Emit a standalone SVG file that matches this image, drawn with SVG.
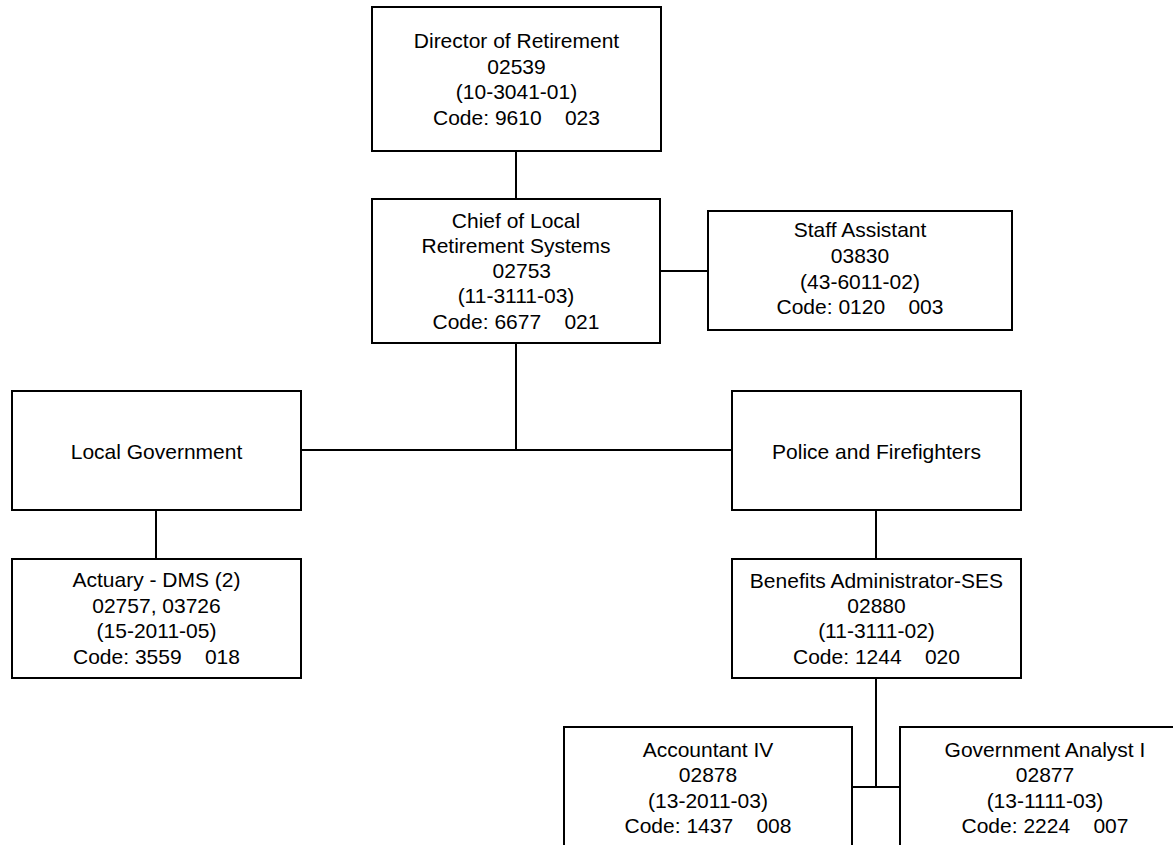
<svg xmlns="http://www.w3.org/2000/svg" width="1173" height="845" viewBox="0 0 1173 845">
  <style>
    .box { fill: #ffffff; stroke: #000000; stroke-width: 2; }
    .link { fill: none; stroke: #000000; stroke-width: 2; }
    text { font-family: "Liberation Sans", Arial, sans-serif; font-size: 21px; fill: #000000; text-anchor: middle; }
  </style>
  <rect width="1173" height="845" fill="#ffffff"/>

  <!-- reporting lines -->
  <g id="connectors">
    <path class="link" d="M516,151 V199"/>
    <path class="link" d="M660,271 H708"/>
    <path class="link" d="M516,343 V450"/>
    <path class="link" d="M301,450 H732"/>
    <path class="link" d="M156,510 V559"/>
    <path class="link" d="M876,510 V559"/>
    <path class="link" d="M876,678 V787"/>
    <path class="link" d="M852,787 H900"/>
  </g>

  <g id="director">
    <rect class="box" x="372" y="7" width="289" height="144"/>
    <text xml:space="preserve"><tspan x="516.5" y="48">Director of Retirement</tspan><tspan x="516.5" y="74">02539</tspan><tspan x="516.5" y="99">(10-3041-01)</tspan><tspan x="516.5" y="125">Code: 9610    023</tspan></text>
  </g>

  <g id="chief">
    <rect class="box" x="372" y="199" width="288" height="144"/>
    <text xml:space="preserve"><tspan x="516" y="228">Chief of Local</tspan><tspan x="516" y="253">Retirement Systems</tspan><tspan x="516" y="278">  02753</tspan><tspan x="516" y="303">(11-3111-03)</tspan><tspan x="516" y="329">Code: 6677    021</tspan></text>
  </g>

  <g id="staff-assistant">
    <rect class="box" x="708" y="211" width="304" height="119"/>
    <text xml:space="preserve"><tspan x="860" y="237">Staff Assistant</tspan><tspan x="860" y="263">03830</tspan><tspan x="860" y="288.5">(43-6011-02)</tspan><tspan x="860" y="314">Code: 0120    003</tspan></text>
  </g>

  <g id="local-government">
    <rect class="box" x="12" y="391" width="289" height="119"/>
    <text x="156.5" y="459">Local Government</text>
  </g>

  <g id="police-firefighters">
    <rect class="box" x="732" y="391" width="289" height="119"/>
    <text x="876.5" y="459">Police and Firefighters</text>
  </g>

  <g id="actuary">
    <rect class="box" x="12" y="559" width="289" height="119"/>
    <text xml:space="preserve"><tspan x="156.5" y="587">Actuary - DMS (2)</tspan><tspan x="156.5" y="612.5">02757, 03726</tspan><tspan x="156.5" y="638">(15-2011-05)</tspan><tspan x="156.5" y="664">Code: 3559    018</tspan></text>
  </g>

  <g id="benefits-administrator">
    <rect class="box" x="732" y="559" width="289" height="119"/>
    <text xml:space="preserve"><tspan x="876.5" y="588">Benefits Administrator-SES</tspan><tspan x="876.5" y="613">02880</tspan><tspan x="876.5" y="638">(11-3111-02)</tspan><tspan x="876.5" y="664">Code: 1244    020</tspan></text>
  </g>

  <g id="accountant">
    <rect class="box" x="564" y="727" width="288" height="119"/>
    <text xml:space="preserve"><tspan x="708" y="756.5">Accountant IV</tspan><tspan x="708" y="782">02878</tspan><tspan x="708" y="807.5">(13-2011-03)</tspan><tspan x="708" y="833">Code: 1437    008</tspan></text>
  </g>

  <g id="government-analyst">
    <rect class="box" x="900" y="727" width="290" height="119"/>
    <text xml:space="preserve"><tspan x="1045" y="756.5">Government Analyst I</tspan><tspan x="1045" y="782">02877</tspan><tspan x="1045" y="807.5">(13-1111-03)</tspan><tspan x="1045" y="833">Code: 2224    007</tspan></text>
  </g>
</svg>
